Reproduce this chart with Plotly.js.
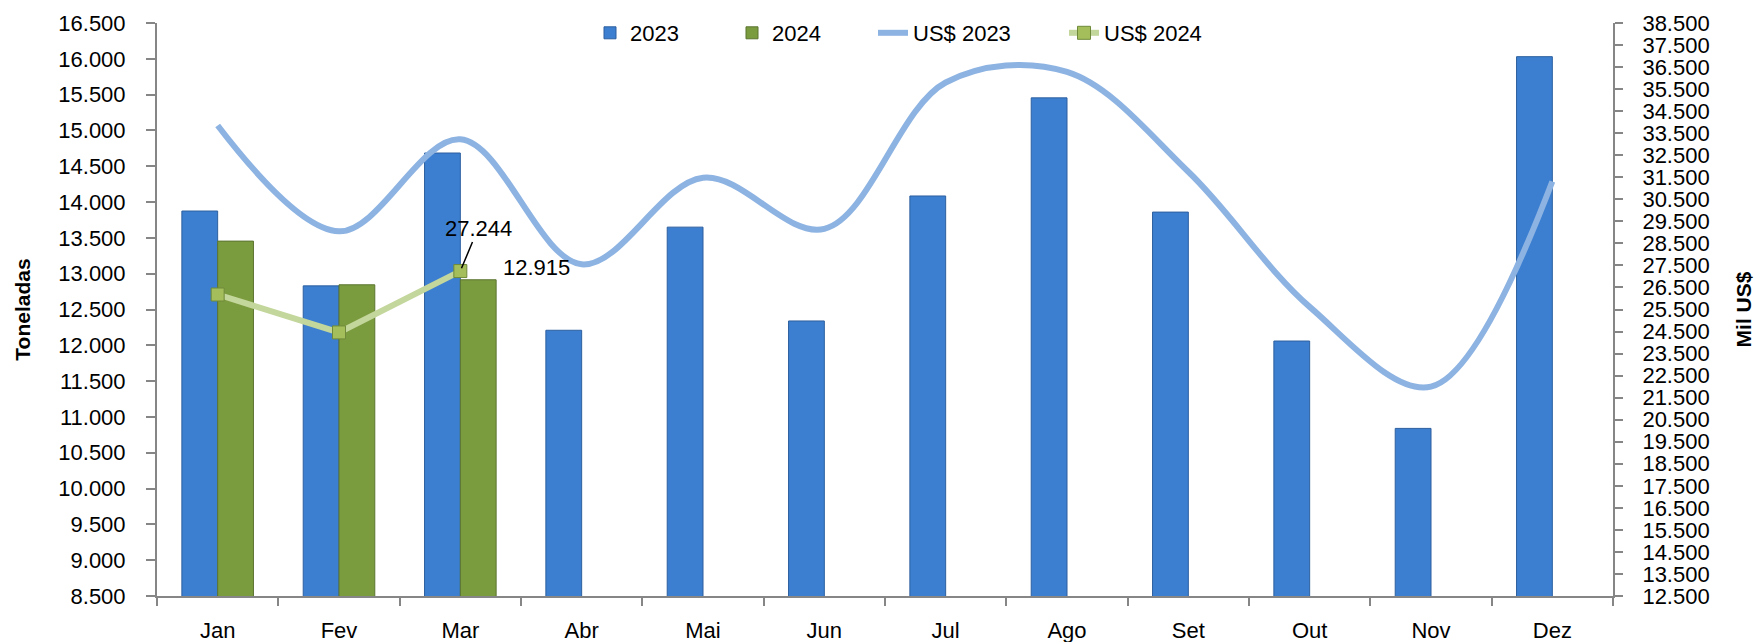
<!DOCTYPE html>
<html>
<head>
<meta charset="utf-8">
<script src="https://cdn.plot.ly/plotly-3.0.1.min.js"></script>
<style>
html, body { margin: 0; padding: 0; background: #ffffff; }
#chart { width: 1764px; height: 642px; }
</style>
</head>
<body>
<div id="chart"></div>
<script>
// ---- data ----
const months = ['Jan', 'Fev', 'Mar', 'Abr', 'Mai', 'Jun', 'Jul', 'Ago', 'Set', 'Out', 'Nov', 'Dez'];
const months2024 = ['Jan', 'Fev', 'Mar'];
const tons2023 = [13875, 12830, 14685, 12210, 13650, 12340, 14085, 15455, 13860, 12060, 10840, 16030];
const tons2024 = [13455, 12845, 12915];
const usd2023 = [33850, 29050, 33220, 27550, 31480, 29160, 35800, 36280, 31750, 25620, 22000, 31310];
const usd2024 = [26180, 24460, 27244];
const seriesNames = ['2023', '2024', 'US$ 2023', 'US$ 2024'];
const leftTitle = 'Toneladas';
const rightTitle = 'Mil US$';

function fmt(v) {
  return String(v).replace(/\B(?=(\d{3})+(?!\d))/g, '.');
}

const FONT = "'Liberation Sans', Arial, sans-serif";
const AXIS = '#868686';

const traces = [
  {
    type: 'bar', name: seriesNames[0], x: months, y: tons2023,
    marker: { color: '#3c7fd0', line: { color: '#2d5f9f', width: 1 } },
    legend: 'legend'
  },
  {
    type: 'bar', name: seriesNames[1], x: months2024, y: tons2024,
    marker: { color: '#7b9b3f', line: { color: '#5b7530', width: 1 } },
    legend: 'legend2'
  },
  {
    type: 'scatter', mode: 'lines', name: seriesNames[2], x: months, y: usd2023, yaxis: 'y2',
    line: { color: '#8db3e2', width: 6, shape: 'spline', smoothing: 1 },
    legend: 'legend3'
  },
  {
    type: 'scatter', mode: 'lines+markers', name: seriesNames[3], x: months2024, y: usd2024, yaxis: 'y2',
    line: { color: '#c3d69b', width: 6 },
    marker: { symbol: 'square', size: 13, color: '#a3be5a', line: { color: '#6f8a3a', width: 1 } },
    legend: 'legend4'
  }
];

const plotL = 157, plotR = 1613, plotT = 23, plotB = 596;
const pw = plotR - plotL, ph = plotB - plotT;
function px2x(px) { return (px - plotL) / pw; }
const legendY = (plotB - 33) / ph;

function legendAt(px) {
  return {
    x: px2x(px), xanchor: 'left', y: legendY, yanchor: 'middle',
    orientation: 'h', bgcolor: 'rgba(0,0,0,0)', borderwidth: 0,
    font: { family: FONT, size: 22, color: '#000' }
  };
}

const marIdx = months.indexOf(months2024[2]);

const layout = {
  width: 1764, height: 642,
  margin: { l: 157, r: 1764 - plotR, t: plotT, b: 642 - plotB, pad: 0 },
  paper_bgcolor: '#ffffff', plot_bgcolor: '#ffffff',
  separators: ',.',
  font: { family: FONT, size: 22, color: '#000' },
  barmode: 'group', bargap: 0.41, bargroupgap: 0,
  showlegend: true,
  legend: legendAt(590),
  legend2: legendAt(732),
  legend3: legendAt(873),
  legend4: legendAt(1064),
  xaxis: {
    type: 'category', categoryorder: 'array', categoryarray: months,
    range: [-0.5, months.length - 0.5], autorange: false,
    showline: true, linecolor: AXIS, linewidth: 2,
    ticks: 'outside', tickson: 'boundaries', ticklen: 8, tickcolor: AXIS, tickwidth: 2,
    showgrid: false, zeroline: false, ticklabelstandoff: 14,
    tickfont: { family: FONT, size: 22, color: '#000' }
  },
  yaxis: {
    range: [8500, 16500], tick0: 8500, dtick: 500, tickformat: ',d',
    showline: true, linecolor: AXIS, linewidth: 2,
    ticks: 'outside', ticklen: 9, tickcolor: AXIS, tickwidth: 2,
    showgrid: false, zeroline: false, ticklabelstandoff: 16,
    tickfont: { family: FONT, size: 22, color: '#000' },
    title: { text: '<b>' + leftTitle + '</b>', font: { family: FONT, size: 21, color: '#000' }, standoff: 22 }
  },
  yaxis2: {
    overlaying: 'y', side: 'right',
    range: [12500, 38500], tick0: 12500, dtick: 1000, tickformat: ',d',
    showline: true, linecolor: AXIS, linewidth: 2,
    ticks: 'outside', ticklen: 8, tickcolor: AXIS, tickwidth: 2,
    showgrid: false, zeroline: false, ticklabelstandoff: 15,
    tickfont: { family: FONT, size: 22, color: '#000' },
    title: { text: '<b>' + rightTitle + '</b>', font: { family: FONT, size: 21, color: '#000' }, standoff: 28 }
  },
  annotations: [
    {
      x: marIdx, y: usd2024[2], xref: 'x', yref: 'y2',
      text: fmt(usd2024[2]), showarrow: true, arrowhead: 0, arrowwidth: 1.5, arrowcolor: '#000',
      ax: 18, ay: -43, standoff: 3,
      font: { family: FONT, size: 22, color: '#000' }
    },
    {
      x: marIdx, y: tons2024[2], xref: 'x', yref: 'y',
      text: fmt(tons2024[2]), showarrow: false, xshift: 76, yshift: 12,
      font: { family: FONT, size: 22, color: '#000' }
    }
  ]
};

Plotly.newPlot('chart', traces, layout, { staticPlot: true, displayModeBar: false });
</script>
</body>
</html>
